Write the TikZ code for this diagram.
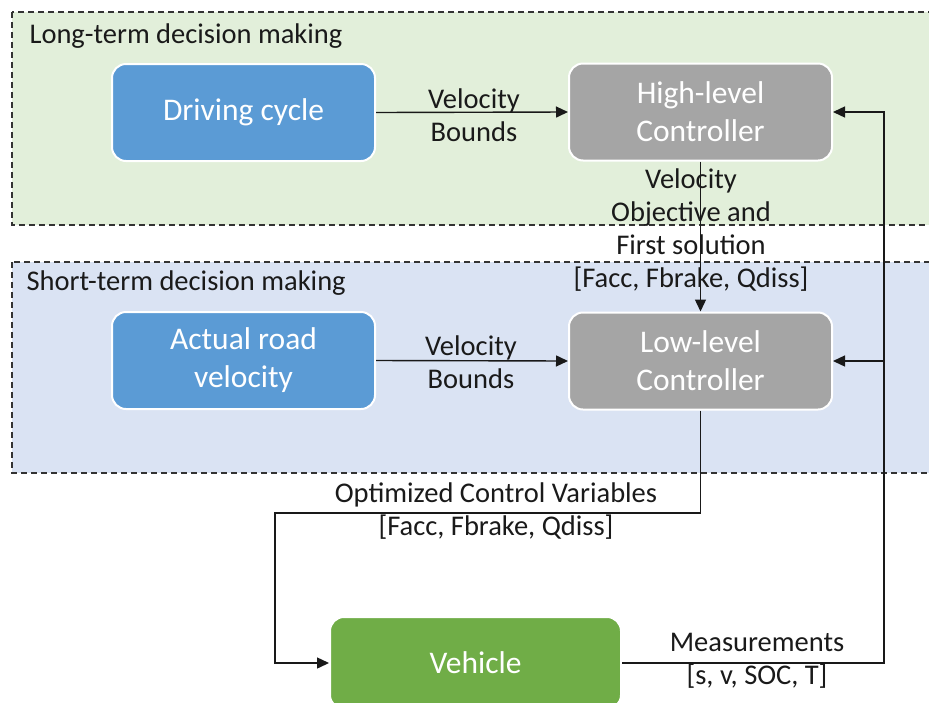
\documentclass[tikz,border=0pt]{standalone}
\usepackage{fontspec}
\setmainfont{Carlito}
\usetikzlibrary{arrows.meta}
\definecolor{greenbg}{HTML}{E2EFDA}
\definecolor{bluebg}{HTML}{DAE3F3}
\definecolor{boxblue}{HTML}{5B9BD5}
\definecolor{boxgray}{HTML}{A5A5A5}
\definecolor{boxgreen}{HTML}{70AD47}
\definecolor{txt}{HTML}{1A1A1A}
\tikzset{
  region/.style={draw=black!80, dashed, dash pattern=on 6pt off 4pt, line width=1.2pt},
  box/.style={draw=white, line width=2pt, rounded corners=14pt, text=white, font=\fontsize{31.5}{38}\selectfont, align=center, minimum width=263, minimum height=97},
  lbl/.style={text=txt, font=\fontsize{28.5}{33}\selectfont, align=center},
  title/.style={text=txt, font=\fontsize{28.5}{33}\selectfont, anchor=west},
  arr/.style={draw=black!90, line width=1.4pt, -{Triangle[length=12pt,width=11pt]}},
}
\begin{document}
\begin{tikzpicture}[x=1pt,y=-1pt]
\clip (0,0) rectangle (929,702);
\fill[white] (0,0) rectangle (929,702);
% regions
\draw[region, fill=greenbg] (12,12) rectangle (945,225);
\draw[region, fill=bluebg] (12,262) rectangle (945,473);
\node[title] (lt) at (26,36) {Long-term decision making};
\node[title] (st) at (23,283) {Short-term decision making};
% boxes
\node[box, fill=boxblue] (dc) at (243.5,112.5) {Driving cycle};
\node[box, fill=boxgray] (hl) at (700.5,112) {High-level\\Controller};
\node[box, fill=boxblue] (ar) at (243.5,360.5) {Actual road\\velocity};
\node[box, fill=boxgray] (ll) at (700.5,361) {Low-level\\Controller};
\node[box, fill=boxgreen, minimum width=291, minimum height=92] (veh) at (475.5,663) {Vehicle};
% coordinates
\coordinate (c1) at (700.5,513);
\coordinate (c2) at (275,513);
\coordinate (fbtop) at (884,112);
\coordinate (fbmid) at (884,361);
% connectors
\draw[arr] (dc.east) -- (hl.west);
\node[lbl] (l1) at (474,115) {Velocity\\Bounds};
\draw[arr] (ar.east) -- (ll.west);
\node[lbl] (l2) at (471,362) {Velocity\\Bounds};
\draw[arr] (hl.south) -- (ll.north);
\node[lbl] (l3) at (691,230) {Velocity\\Objective and\\First solution\\{}[Facc, Fbrake, Qdiss]};
\draw[arr] (ll.south) -- (c1) -- (c2) |- (veh.west);
\node[lbl] (l4) at (496,511) {Optimized Control Variables\\{}[Facc, Fbrake, Qdiss]};
\draw[arr] (veh.east) -| (fbtop) -- (hl.east);
\draw[arr] (fbmid) -- (ll.east);
\node[lbl] (l5) at (757,661) {Measurements\\{}[s, v, SOC, T]};
\end{tikzpicture}
\end{document}
